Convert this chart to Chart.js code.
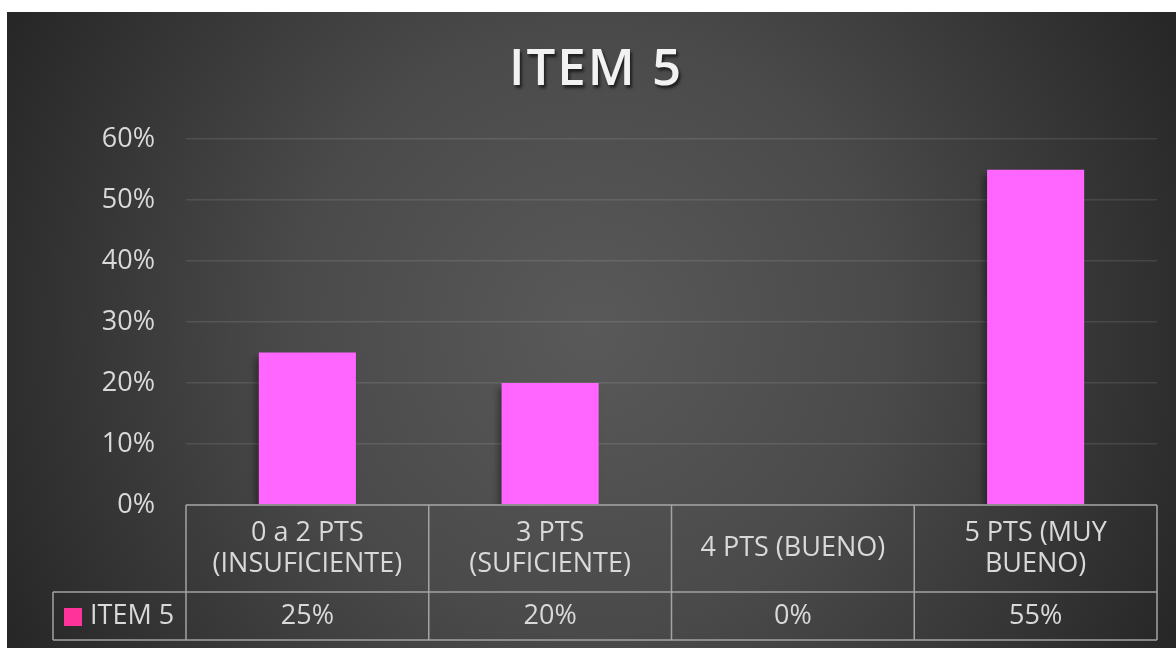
<!DOCTYPE html>
<html>
<head>
<meta charset="utf-8">
<script src="https://cdn.jsdelivr.net/npm/chart.js@4/dist/chart.umd.min.js"></script>
<style>
  html, body { margin:0; padding:0; background:#fff; }
  #wrap {
    position:absolute; left:7px; top:12px; width:1169px; height:636px;
    background:radial-gradient(circle farthest-corner at 50% 50%, #595959 0%, #4a4a4a 45%, #262626 100%);
  }
</style>
</head>
<body>
<div id="wrap"><canvas id="chart"></canvas></div>
<script>
/* ── data ── */
const CATEGORIES = [['0 a 2 PTS','(INSUFICIENTE)'], ['3 PTS','(SUFICIENTE)'], ['4 PTS (BUENO)'], ['5 PTS (MUY','BUENO)']];
const VALUES     = [0.25, 0.20, 0, 0.55];
const SERIES     = 'ITEM 5';
const TITLE      = 'ITEM 5';

const FONT = 'Open Sans';
const TEXT = '#d9d9d9';
const BAR  = '#ff66ff';
const KEY  = '#ff3399';
const pct  = v => Math.round(v * 100) + '%';

/* ── title: shadow, a bit of tracking, nudged right like the original ── */
const titleShadow = {
  id:'titleShadow',
  afterInit(chart) {
    const tb = chart.titleBlock;
    if (!tb) return;
    const orig = tb.draw;
    tb.draw = function(...args) {
      const ctx = chart.ctx;
      ctx.save();
      ctx.translate(14, 0);
      ctx.letterSpacing = '2px';
      ctx.shadowColor = 'rgba(0,0,0,.6)';
      ctx.shadowOffsetX = 2; ctx.shadowOffsetY = 3; ctx.shadowBlur = 3;
      orig.apply(this, args);
      ctx.restore();
    };
  }
};

/* ── bar shadow ── */
const barShadow = {
  id:'barShadow',
  beforeDatasetsDraw(chart) {
    const ctx = chart.ctx;
    ctx.save();
    ctx.shadowColor = 'rgba(0,0,0,.35)';
    ctx.shadowOffsetX = -4; ctx.shadowOffsetY = 5; ctx.shadowBlur = 6;
  },
  afterDatasetsDraw(chart) { chart.ctx.restore(); }
};

/* ── data table under the plot ── */
const dataTable = {
  id:'dataTable',
  afterDraw(chart) {
    const { ctx, chartArea:a, scales:{ x } } = chart;
    const n = CATEGORIES.length;
    const w = (a.right - a.left) / n;
    const top = a.bottom, mid = top + 87, bot = mid + 48;
    const legLeft = a.left - 133;

    ctx.save();
    ctx.strokeStyle = '#a3a3a3';
    ctx.lineWidth = 1.5;
    ctx.beginPath();
    ctx.moveTo(a.left, top);  ctx.lineTo(a.right, top);
    ctx.moveTo(legLeft, mid); ctx.lineTo(a.right, mid);
    ctx.moveTo(legLeft, bot); ctx.lineTo(a.right, bot);
    ctx.moveTo(legLeft, mid); ctx.lineTo(legLeft, bot);
    for (let i = 0; i < n; i++) {
      const l = x.getPixelForValue(i) - w / 2;
      ctx.moveTo(l, top); ctx.lineTo(l, bot);
    }
    ctx.moveTo(a.right, top); ctx.lineTo(a.right, bot);
    ctx.stroke();

    ctx.fillStyle = TEXT;
    ctx.font = `27px "${FONT}"`;
    ctx.textAlign = 'center';
    ctx.textBaseline = 'middle';
    const rowMid = (top + mid) / 2, valMid = (mid + bot) / 2;
    CATEGORIES.forEach((lines, i) => {
      const cx = x.getPixelForValue(i);
      lines.forEach((t, j) => ctx.fillText(t, cx, rowMid + (j - (lines.length - 1) / 2) * 31));
      ctx.fillText(pct(VALUES[i]), cx, valMid);
    });

    ctx.fillStyle = KEY;
    ctx.fillRect(legLeft + 11, valMid - 8, 18, 18);
    ctx.fillStyle = TEXT;
    ctx.textAlign = 'left';
    ctx.fillText(SERIES, legLeft + 37, valMid);
    ctx.restore();
  }
};

new Chart(document.getElementById('chart'), {
  type:'bar',
  data:{
    labels: CATEGORIES,
    datasets:[{ label:SERIES, data:VALUES, backgroundColor:BAR, borderWidth:0, barPercentage:1, categoryPercentage:0.4 }]
  },
  options:{
    responsive:true, maintainAspectRatio:false, animation:false,
    layout:{ padding:{ left:0, right:19, top:0, bottom:143 } },
    plugins:{
      legend:{ display:false },
      tooltip:{ enabled:false },
      title:{ display:true, text:TITLE, color:'#f2f2f2', font:{ family:FONT, size:51, weight:600 }, padding:{ top:28, bottom:38 } }
    },
    scales:{
      x:{ display:false },
      y:{
        min:0, max:0.6,
        border:{ display:false },
        grid:{ color:'rgba(255,255,255,.1)', lineWidth:1.5, drawTicks:false },
        ticks:{ stepSize:0.1, color:TEXT, padding:31, font:{ family:FONT, size:27 }, callback:v => pct(v) },
        afterFit(s) { s.width = 179; }
      }
    }
  },
  plugins:[titleShadow, barShadow, dataTable]
});
</script>
</body>
</html>
